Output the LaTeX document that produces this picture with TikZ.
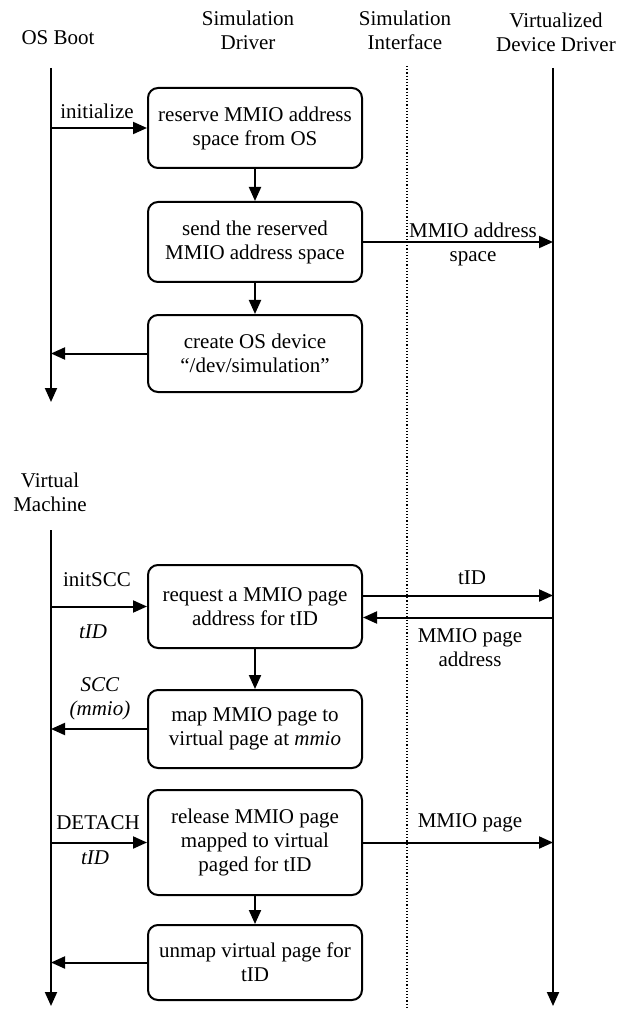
\documentclass[tikz,border=0pt]{standalone}
\usepackage{fontspec}
\setmainfont{Liberation Serif}
\usetikzlibrary{arrows.meta}
\begin{document}
\begin{tikzpicture}[x=0.5pt,y=-0.5pt,
    font=\fontsize{10.5}{12}\selectfont,
    stepbox/.style={draw, line width=1pt, rounded corners=5pt, align=center,
      minimum width=107pt, inner sep=0pt},
    life/.style={line width=1pt, -{Triangle[length=7pt,width=6pt]}},
    msg/.style={line width=1pt, -{Triangle[length=7pt,width=6pt]}},
    lbl/.style={align=center, inner sep=0pt}]
\useasboundingbox (0,0) rectangle (619,1010);
% column heads
\node[lbl] (hOS)  at (58,38)  {OS Boot};
\node[lbl] (hSD)  at (248,30) {Simulation\\Driver};
\node[lbl] (hSI)  at (405,30) {Simulation\\Interface};
\node[lbl] (hVDD) at (556,32) {Virtualized\\Device Driver};
\node[lbl] (hVM)  at (50,492) {Virtual\\Machine};
% life lines
\coordinate (osTop) at (51,68);   \coordinate (osEnd) at (51,402);
\coordinate (vmTop) at (51,530);  \coordinate (vmEnd) at (51,1006);
\coordinate (vddTop) at (553,68); \coordinate (vddEnd) at (553,1006);
\coordinate (sifTop) at (407,66); \coordinate (sifEnd) at (407,1010);
\draw[life] (osTop) -- (osEnd);
\draw[life] (vmTop) -- (vmEnd);
\draw[life] (vddTop) -- (vddEnd);
\draw[densely dotted, line width=0.6pt] (sifTop) -- (sifEnd);
% boot steps
\node[stepbox, minimum height=40pt] (b1) at (255,128) {reserve MMIO address\\space from OS};
\node[stepbox, minimum height=40pt] (b2) at (255,242) {send the reserved\\MMIO address space};
\node[stepbox, minimum height=38.5pt] (b3) at (255,353.5) {create OS device\\``/dev/simulation''};
\draw[msg] (osTop |- b1.west) -- (b1.west);
\node[lbl] (lInit) at (97,111) {initialize};
\draw[msg] (b1) -- (b2);
\draw[msg] (b2.east) -- (vddTop |- b2.east);
\node[lbl] (lAddr) at (473,244) {MMIO address\\space};
\draw[msg] (b2) -- (b3);
\draw[msg] (b3.west) -- (osTop |- b3.west);
% virtual machine steps
\node[stepbox, minimum height=41.5pt] (b4) at (255,606.5) {request a MMIO page\\address for tID};
\node[stepbox, minimum height=39pt] (b5) at (255,729) {map MMIO page to\\virtual page at \textit{mmio}};
\node[stepbox, minimum height=52.5pt] (b6) at (255,842.5) {release MMIO page\\mapped to virtual\\paged for tID};
\node[stepbox, minimum height=37.5pt] (b7) at (255,962.5) {unmap virtual page for\\tID};
\coordinate (b4out) at ([yshift=5.5pt]b4.east);
\coordinate (b4in) at ([yshift=-5.5pt]b4.east);
\draw[msg] (vmTop |- b4.west) -- (b4.west);
\node[lbl] (lInitSCC) at (97,580) {initSCC};
\node[lbl] (lTid1) at (93,632) {\textit{tID}};
\draw[msg] (b4out) -- (vddTop |- b4out);
\node[lbl] (lTid2) at (472,578) {tID};
\draw[msg] (vddTop |- b4in) -- (b4in);
\node[lbl] (lPageAddr) at (470,648) {MMIO page\\address};
\draw[msg] (b4) -- (b5);
\draw[msg] (b5.west) -- (vmTop |- b5.west);
\node[lbl] (lSCC) at (100,699) {\textit{SCC}\\\textit{(mmio)}};
\draw[msg] (vmTop |- b6.west) -- (b6.west);
\node[lbl] (lDetach) at (98,823) {DETACH};
\node[lbl] (lTid3) at (95,858) {\textit{tID}};
\draw[msg] (b6.east) -- (vddTop |- b6.east);
\node[lbl] (lPage) at (470,823) {MMIO page};
\draw[msg] (b6) -- (b7);
\draw[msg] (b7.west) -- (vmTop |- b7.west);
\end{tikzpicture}
\end{document}
